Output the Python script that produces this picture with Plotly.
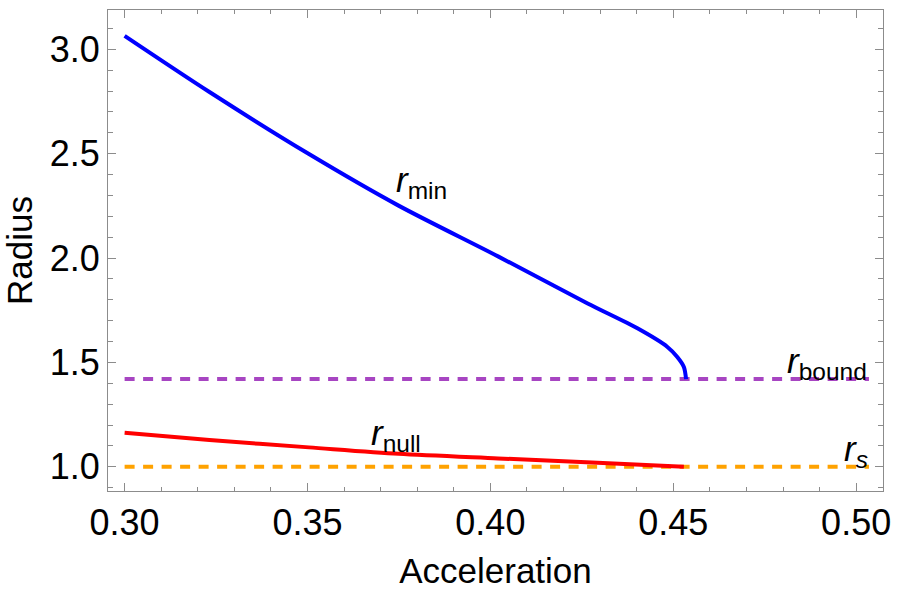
import plotly.graph_objects as go

# r_min curve
rmin_x = [0.300, 0.3232, 0.3504, 0.3749, 0.4021, 0.4266, 0.4402, 0.4484, 0.4511, 0.4529, 0.4535]
rmin_y = [3.064, 2.795, 2.498, 2.251, 2.008, 1.782, 1.663, 1.574, 1.526, 1.478, 1.420]

# r_null curve
rnull_x = [0.300, 0.3232, 0.3504, 0.3749, 0.4021, 0.4293, 0.4529]
rnull_y = [1.163, 1.128, 1.093, 1.062, 1.040, 1.019, 1.000]

# horizontal reference levels
bound_x = [0.300, 0.5035]
bound_y = [1.42, 1.42]
rs_x = [0.300, 0.5035]
rs_y = [1.0, 1.0]

xticks = [0.30, 0.35, 0.40, 0.45, 0.50]
xticklabels = ["0.30", "0.35", "0.40", "0.45", "0.50"]
yticks = [1.0, 1.5, 2.0, 2.5, 3.0]
yticklabels = ["1.0", "1.5", "2.0", "2.5", "3.0"]

FONT = "Liberation Sans, Arial, sans-serif"

fig = go.Figure()
fig.add_trace(go.Scatter(x=bound_x, y=bound_y, mode="lines",
                         line=dict(color="#A745C2", width=4, dash="10px,8.5px")))
fig.add_trace(go.Scatter(x=rs_x, y=rs_y, mode="lines",
                         line=dict(color="#FFA200", width=4, dash="10px,8.5px")))
fig.add_trace(go.Scatter(x=rnull_x, y=rnull_y, mode="lines",
                         line=dict(color="#FF0000", width=4, shape="spline", smoothing=0.8)))
fig.add_trace(go.Scatter(x=rmin_x, y=rmin_y, mode="lines",
                         line=dict(color="#0000FF", width=4, shape="spline", smoothing=0.8)))

labels = [
    (0.3812, 2.365, "<i>r</i><sub>min</sub>"),
    (0.3741, 1.150, "<i>r</i><sub>null</sub>"),
    (0.4919, 1.496, "<i>r</i><sub>bound</sub>"),
    (0.5000, 1.075, "<i>r</i><sub><i>s</i></sub>"),
]
for lx, ly, txt in labels:
    fig.add_annotation(x=lx, y=ly, text=txt, showarrow=False,
                       font=dict(family=FONT, size=35, color="black"))

axis_common = dict(
    showline=True, linecolor="#8c8c8c", linewidth=1, mirror="allticks",
    ticks="inside", tickcolor="#8c8c8c", tickwidth=1, ticklen=8,
    showgrid=False, zeroline=False,
    tickfont=dict(family=FONT, size=36, color="black"),
)

fig.update_xaxes(range=[0.29546, 0.50734], tickvals=xticks, ticktext=xticklabels,
                 title=dict(text="Acceleration", font=dict(family=FONT, size=35, color="black"), standoff=16),
                 minor=dict(ticks="inside", ticklen=4, tickcolor="#8c8c8c", dtick=0.01, tick0=0.30, showgrid=False),
                 **axis_common)
fig.update_yaxes(range=[0.884, 3.188], tickvals=yticks, ticktext=yticklabels,
                 title=dict(text="Radius", font=dict(family=FONT, size=35, color="black"), standoff=12),
                 minor=dict(ticks="inside", ticklen=5, tickcolor="#8c8c8c", dtick=0.1, tick0=1.0, showgrid=False),
                 **axis_common)

fig.update_layout(
    width=900, height=594,
    margin=dict(l=108, r=13, t=9, b=103),
    paper_bgcolor="white", plot_bgcolor="white",
    showlegend=False,
)

fig.write_html("out.html")
